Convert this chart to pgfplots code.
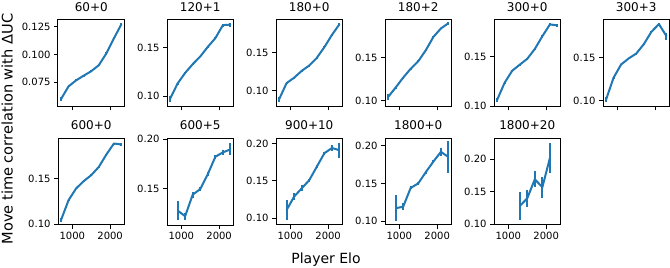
\documentclass[border=0pt]{standalone}
\usepackage{fontspec}
\setmainfont{DejaVu Sans}
\usepackage{pgfplots}
\pgfplotsset{compat=1.18}
\definecolor{mplblue}{HTML}{1F77B4}
\pgfplotsset{
 panel/.style={
  scale only axis, width=66.5pt, height=86.5pt,
  anchor=north west,
  xmin=620, xmax=2380,
  xtick={1000,2000},
  axis line style={line width=1pt},
  every tick/.style={line width=1pt, black},
  major tick length=3.8pt,
  tick align=outside,
  xtick pos=lower, ytick pos=left,
  /pgf/number format/assume math mode=true,
  xticklabel style={font=\fontsize{10}{12}\selectfont, /pgf/number format/1000 sep={}, inner sep=0pt, yshift=-3.5pt},
  yticklabel style={font=\fontsize{10}{12}\selectfont, /pgf/number format/fixed, /pgf/number format/fixed zerofill, /pgf/number format/precision=2, inner sep=0pt, xshift=-3.5pt},
  scaled y ticks=false,
  every axis title/.style={font=\fontsize{12}{14}\selectfont, at={(0.5,1)}, anchor=base, yshift=8.6pt},
 },
 toprow/.style={xticklabels={}},
 ser/.style={mplblue, line width=2pt, line join=round, mark=none,
   error bars/.cd, y dir=both, y explicit, error mark=none,
   error bar style={line width=2pt, mplblue}},
}
\begin{document}
\begin{tikzpicture}
\useasboundingbox (0,0) rectangle (670pt,268pt);
% ---------- row 1 ----------
\begin{axis}[panel, toprow, at={(58pt,248pt)}, title={60+0}, ymin=0.0533, ymax=0.131,
  ytick={0.075,0.1,0.125}, yticklabel style={/pgf/number format/precision=3}]
\addplot[ser] coordinates {
(700,0.060) +- (0,0.002) (900,0.0714) +- (0,0.001) (1100,0.0768) +- (0,0.001)
(1300,0.081) +- (0,0.001) (1500,0.085) +- (0,0.001) (1700,0.0904) +- (0,0.001)
(1900,0.101) +- (0,0.001) (2100,0.1145) +- (0,0.001) (2300,0.1274) +- (0,0.001)};
\end{axis}
\begin{axis}[panel, toprow, at={(167pt,248pt)}, title={120+1}, ymin=0.0892, ymax=0.1788,
  ytick={0.10,0.15}]
\addplot[ser] coordinates {
(700,0.097) +- (0,0.0035) (900,0.113) +- (0,0.001) (1100,0.124) +- (0,0.001)
(1300,0.133) +- (0,0.001) (1500,0.141) +- (0,0.001) (1700,0.151) +- (0,0.001)
(1900,0.160) +- (0,0.001) (2100,0.1735) +- (0,0.0015) (2300,0.174) +- (0,0.002)};
\end{axis}
\begin{axis}[panel, toprow, at={(276pt,248pt)}, title={180+0}, ymin=0.0794, ymax=0.1925,
  ytick={0.10,0.15}]
\addplot[ser] coordinates {
(700,0.0886) +- (0,0.003) (900,0.110) +- (0,0.001) (1100,0.117) +- (0,0.001)
(1300,0.126) +- (0,0.001) (1500,0.133) +- (0,0.001) (1700,0.143) +- (0,0.001)
(1900,0.157) +- (0,0.001) (2100,0.173) +- (0,0.001) (2300,0.187) +- (0,0.001)};
\end{axis}
\begin{axis}[panel, toprow, at={(385pt,248pt)}, title={180+2}, ymin=0.093, ymax=0.1938,
  ytick={0.10,0.15}]
\addplot[ser] coordinates {
(700,0.104) +- (0,0.003) (900,0.115) +- (0,0.001) (1100,0.1266) +- (0,0.001)
(1300,0.137) +- (0,0.001) (1500,0.1457) +- (0,0.001) (1700,0.1586) +- (0,0.001)
(1900,0.174) +- (0,0.001) (2100,0.184) +- (0,0.001) (2300,0.190) +- (0,0.0015)};
\end{axis}
\begin{axis}[panel, toprow, at={(494pt,248pt)}, title={300+0}, ymin=0.0995, ymax=0.1875,
  ytick={0.10,0.15}]
\addplot[ser] coordinates {
(700,0.106) +- (0,0.002) (900,0.1236) +- (0,0.001) (1100,0.1358) +- (0,0.001)
(1300,0.142) +- (0,0.001) (1500,0.148) +- (0,0.001) (1700,0.158) +- (0,0.001)
(1900,0.171) +- (0,0.001) (2100,0.183) +- (0,0.001) (2300,0.182) +- (0,0.0015)};
\end{axis}
\begin{axis}[panel, toprow, at={(603pt,248pt)}, title={300+3}, ymin=0.093, ymax=0.1938,
  ytick={0.10,0.15}]
\addplot[ser] coordinates {
(700,0.1008) +- (0,0.003) (900,0.1266) +- (0,0.001) (1100,0.142) +- (0,0.001)
(1300,0.149) +- (0,0.001) (1500,0.1547) +- (0,0.001) (1700,0.1656) +- (0,0.001)
(1900,0.180) +- (0,0.001) (2100,0.189) +- (0,0.0015) (2300,0.175) +- (0,0.004)};
\end{axis}
% ---------- row 2 ----------
\begin{axis}[panel, at={(58pt,129.5pt)}, title={600+0}, ymin=0.0993, ymax=0.1942,
  ytick={0.10,0.15}]
\addplot[ser] coordinates {
(700,0.1047) +- (0,0.002) (900,0.1266) +- (0,0.001) (1100,0.1394) +- (0,0.001)
(1300,0.1474) +- (0,0.001) (1500,0.154) +- (0,0.001) (1700,0.163) +- (0,0.001)
(1900,0.1766) +- (0,0.001) (2100,0.1887) +- (0,0.001) (2300,0.1876) +- (0,0.0015)};
\end{axis}
\begin{axis}[panel, at={(167pt,129.5pt)}, title={600+5}, ymin=0.1134, ymax=0.2007,
  ytick={0.15,0.20}]
\addplot[ser] coordinates {
(900,0.128) +- (0,0.010) (1100,0.1223) +- (0,0.0035) (1300,0.144) +- (0,0.003)
(1500,0.1497) +- (0,0.002) (1700,0.1647) +- (0,0.002) (1900,0.1823) +- (0,0.002)
(2100,0.1867) +- (0,0.0025) (2300,0.1897) +- (0,0.006)};
\end{axis}
\begin{axis}[panel, at={(276pt,129.5pt)}, title={900+10}, ymin=0.091, ymax=0.2067,
  ytick={0.10,0.15,0.20}]
\addplot[ser] coordinates {
(900,0.111) +- (0,0.013) (1100,0.129) +- (0,0.005) (1300,0.140) +- (0,0.004)
(1500,0.151) +- (0,0.002) (1700,0.169) +- (0,0.002) (1900,0.187) +- (0,0.002)
(2100,0.194) +- (0,0.004) (2300,0.191) +- (0,0.010)};
\end{axis}
\begin{axis}[panel, at={(385pt,129.5pt)}, title={1800+0}, ymin=0.0947, ymax=0.2097,
  ytick={0.10,0.15,0.20}]
\addplot[ser] coordinates {
(900,0.117) +- (0,0.017) (1100,0.119) +- (0,0.005) (1300,0.144) +- (0,0.002)
(1500,0.150) +- (0,0.002) (1700,0.165) +- (0,0.002) (1900,0.179) +- (0,0.002)
(2100,0.192) +- (0,0.005) (2300,0.185) +- (0,0.021)};
\end{axis}
\begin{axis}[panel, at={(494pt,129.5pt)}, title={1800+20}, ymin=0.099, ymax=0.2316,
  ytick={0.10,0.15,0.20}]
\addplot[ser] coordinates {
(1300,0.128) +- (0,0.022) (1500,0.140) +- (0,0.013) (1700,0.169) +- (0,0.0125)
(1900,0.157) +- (0,0.016) (2100,0.2018) +- (0,0.0236)};
\end{axis}
% ---------- shared labels ----------
\node[rotate=90, font=\fontsize{14.6}{17}\selectfont, inner sep=0pt] at (7.3pt,139pt) {Move time correlation with ΔUC};
\node[anchor=base, font=\fontsize{14}{17}\selectfont, inner sep=0pt] at (326pt,4.7pt) {Player Elo};
\end{tikzpicture}
\end{document}
